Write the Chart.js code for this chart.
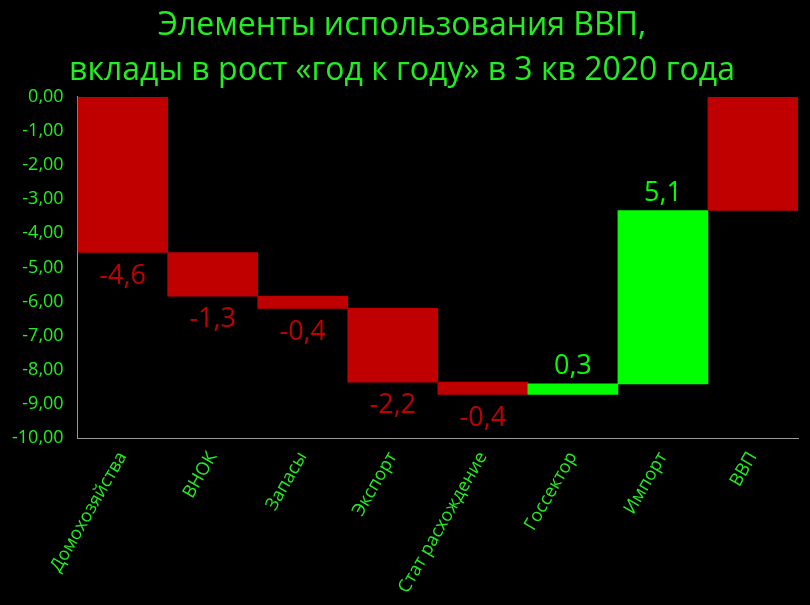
<!DOCTYPE html>
<html>
<head>
<meta charset="utf-8">
<script src="https://cdn.jsdelivr.net/npm/chart.js@4"></script>
<style>
  html, body { margin: 0; padding: 0; background: #000; }
  #wrap { width: 810px; height: 605px; }
</style>
</head>
<body>
<div id="wrap"><canvas id="chart"></canvas></div>
<script>
// Data
const categories = ['Домохозяйства', 'ВНОК', 'Запасы', 'Экспорт', 'Стат расхождение', 'Госсектор', 'Импорт', 'ВВП'];
const contributions = [-4.56, -1.28, -0.36, -2.16, -0.36, 0.31, 5.08]; // last bar (ВВП) is the total
const yMin = -10;
const yMax = 0;
const yStep = 1;

const RED = '#c00000';
const GREEN = '#00ff00';
const TEXT = '#22ee22';
const FONT = "'Open Sans', sans-serif";

// floating bars: [start, end] for each step, then the total from 0
let running = 0;
const ranges = contributions.map(v => {
  const start = running;
  running += v;
  return [start, running];
});
ranges.push([0, running]);

const colors = contributions.map(v => (v < 0 ? RED : GREEN));
colors.push(running < 0 ? RED : GREEN);

const fmt = (v, d) => v.toFixed(d).replace('.', ',');

// value labels under (negative) or above (positive) each step bar
const valueLabels = {
  id: 'valueLabels',
  afterDatasetsDraw(chart) {
    const ctx = chart.ctx;
    const bars = chart.getDatasetMeta(0).data;
    ctx.save();
    ctx.font = '27px ' + FONT;
    ctx.textAlign = 'center';
    contributions.forEach((v, i) => {
      const bar = bars[i];
      if (v < 0) {
        ctx.fillStyle = RED;
        ctx.textBaseline = 'top';
        ctx.fillText(fmt(v, 1), bar.x, Math.max(bar.y, bar.base) + 10);
      } else {
        ctx.fillStyle = GREEN;
        ctx.textBaseline = 'alphabetic';
        ctx.fillText(fmt(v, 1), bar.x, Math.min(bar.y, bar.base) - 10);
      }
    });
    ctx.restore();
  }
};

new Chart(document.getElementById('chart'), {
  type: 'bar',
  data: {
    labels: categories,
    datasets: [{
      data: ranges,
      backgroundColor: colors,
      borderWidth: 0,
      barPercentage: 1,
      categoryPercentage: 1,
    }],
  },
  options: {
    responsive: true,
    maintainAspectRatio: false,
    animation: false,
    layout: { padding: { left: 6, right: 12, top: 0, bottom: 6 } },
    plugins: {
      legend: { display: false },
      tooltip: { enabled: false },
      title: {
        display: true,
        text: ['Элементы использования ВВП,', 'вклады в рост «год к году» в 3 кв 2020 года'],
        color: TEXT,
        font: { family: FONT, size: 32, weight: 'normal', lineHeight: 1.42 },
        padding: { top: 3, bottom: 3 },
      },
    },
    scales: {
      y: {
        min: yMin,
        max: yMax,
        ticks: {
          stepSize: yStep,
          color: TEXT,
          font: { family: FONT, size: 18 },
          callback: value => fmt(value, 2),
          padding: 6,
        },
        grid: { display: false },
        border: { display: true, color: '#999', width: 1 },
      },
      x: {
        ticks: {
          color: TEXT,
          font: { family: FONT, size: 18 },
          minRotation: 60,
          maxRotation: 60,
          padding: 2,
        },
        grid: { display: false },
        border: { display: true, color: '#999', width: 1 },
      },
    },
  },
  plugins: [valueLabels],
});
</script>
</body>
</html>
